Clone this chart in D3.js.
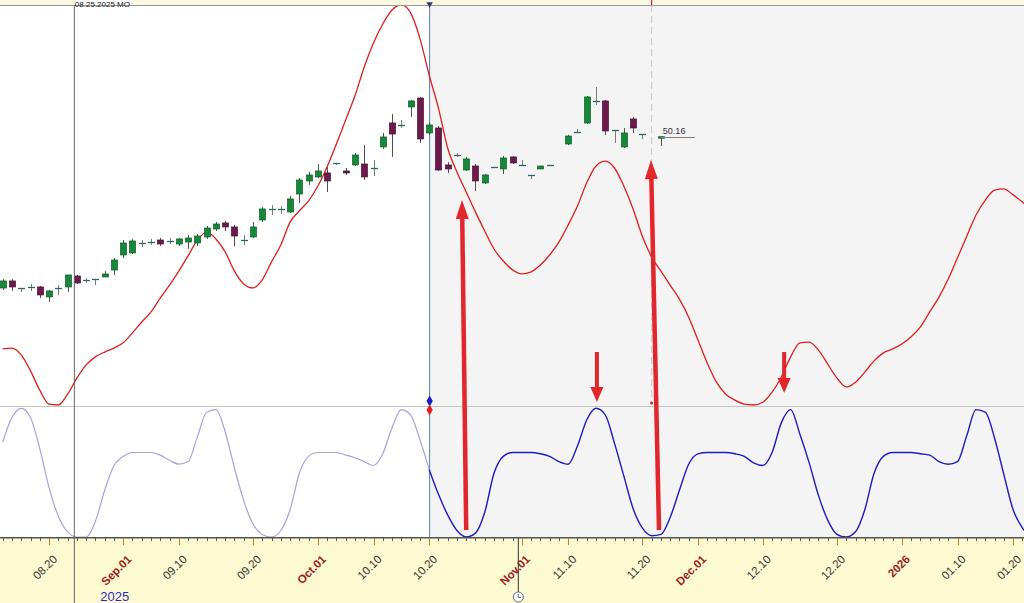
<!DOCTYPE html>
<html>
<head>
<meta charset="utf-8">
<title>cycle chart</title>
<script src="https://cdn.jsdelivr.net/npm/d3@7/dist/d3.min.js"></script>
<style>
  body { margin: 0; background: #fff; }
  svg { display: block; font-family: "Liberation Sans", Arial, sans-serif; }
</style>
</head>
<body>
<svg id="svg" width="1024" height="603"></svg>
<script>
// ---- calendar ----
var firstDay = "2025-08-13";
var lastDay = "2026-01-23";
var holidays = ["2025-09-01", "2025-10-07", "2025-11-27", "2025-12-25", "2026-01-01"];
var cursorDay = "2025-08-25";
var splitDay = "2025-10-20";
var nowDay = "2025-11-21";
var lastPrice = 50.16;

// ---- candles, one per trading day from Aug 13 ----
var open = [31.25,32.13,31.25,31.38,31.38,30.13,31.25,31.38,32.75,32.25, 32.38,32.63,33.50,35.38,35.63,36.88,37.00,37.25,37.13,36.75,
  37.00,36.88,37.63,38.63,39.38,38.88,37.25,37.63,39.75,41.13, 41.13,40.75,43.00,44.63,45.13,45.63,46.88,45.88,46.63,46.75,
  46.25,48.88,51.88,51.63,53.88,55.00,50.63,51.25,46.63,47.88, 46.00,46.50,44.38,46.38,46.13,47.63,46.63,45.38,46.13,46.63,
  null,49.25,50.81,51.88,54.63,54.63,51.00,48.88,52.38,50.50, null,50.10];
var high = [32.38,32.38,31.25,31.75,31.50,31.00,31.63,32.88,32.88,32.50, 32.38,33.38,35.00,37.25,37.38,37.25,37.38,37.50,37.50,37.50,
  37.88,38.00,39.00,39.50,39.63,39.13,37.88,39.50,41.38,41.63, 41.50,42.75,45.00,45.75,46.75,46.38,46.88,46.25,48.13,49.13,
  47.25,50.63,53.00,52.25,54.75,55.13,52.00,51.50,47.00,48.13, 47.63,46.75,45.50,46.38,47.75,47.75,47.25,45.38,46.50,46.63,
  null,50.38,51.13,55.25,56.38,54.75,51.00,51.25,52.63,50.50, null,50.20];
var low = [31.00,30.88,30.75,30.88,30.00,29.50,30.38,30.75,31.75,31.88, 31.63,32.63,32.88,35.00,35.50,36.38,36.63,36.50,36.75,36.50,
  36.13,36.50,37.38,38.38,38.38,36.50,36.63,37.50,39.50,40.38, 40.50,40.63,41.88,44.13,45.00,43.25,46.63,45.38,46.50,44.75,
  45.25,48.63,47.63,51.25,52.63,49.38,50.38,45.88,45.63,47.63, 45.88,43.38,44.25,46.38,45.50,46.75,46.50,44.88,46.13,46.63,
  null,49.13,50.63,51.75,54.13,50.38,49.38,48.75,50.63,49.88, null,49.00];
var close = [32.13,31.38,31.25,31.38,30.38,30.88,31.25,32.88,31.88,32.25, 32.38,33.00,34.75,36.88,37.13,36.88,37.00,36.75,37.13,37.38,
  37.50,37.75,38.75,39.25,38.88,37.75,37.25,38.88,41.13,41.13, 41.13,42.38,44.75,45.38,45.88,44.63,46.88,45.63,47.88,45.13,
  46.25,50.13,50.50,51.63,54.63,49.88,51.63,46.00,46.13,47.88, 47.38,44.63,45.38,46.38,47.50,46.88,46.63,45.38,46.50,46.63,
  null,50.25,50.81,55.13,54.63,50.88,51.00,50.63,51.25,50.50, null,50.16];

// ---- cycle in the price panel (0..100), one per trading day ----
var cycle = [14.0,14.2,12.5,8.5,3.7,0.2,0,2.7,6.7,10.0, 12.0,13.2,14.2,15.5,18.0,20.7,23.2,26.7,29.9,33.4,
  37.2,41.1,43.1,41.4,38.2,33.4,30.2,29.2,31.2,35.7, 39.9,45.6,48.4,50.9,54.6,59.4,65.1,71.1,77.1,84.3,
  90.3,95.0,98.5,99.8,97.8,91.5,82.3,74.1,64.1,58.1, 53.1,48.1,43.4,38.9,35.9,33.7,32.7,33.2,34.9,37.4,
  40.6,44.9,49.6,55.4,59.6,60.8,59.1,54.6,48.9,42.1, 36.9,33.4,29.9,26.4,21.9,16.2,10.5,5.7,2.7,1.2,
  0.2,0,0.7,3.2,7.0,12.0,15.5,15.7,13.7,10.2, 6.7,4.5,5.7,8.2,11.0,13.0,14.0,15.2,17.0,19.5,
  23.2,26.9,31.4,36.7,42.1,47.4,51.1,53.6,53.9,52.4, 50.6,48.6];

// ---- oscillator in the lower panel (0..100) ----
var osc = [73,92,99,92,68,38,16,4,0,0, 12,36,55,62,65,65,65,63,59,56,
  58,77,96,98,81,53,28,10,2,0, 5,21,49,62,65,65,65,63,61,58,
  55,64,84,98,94,75,52,33,17,5, 0,3,19,49,62,65,65,65,64,62,
  58,56,70,90,99,94,72,47,22,7, 1,2,15,36,56,64,65,65,65,64,
  62,57,55,65,88,98,79,57,32,13, 2,0,4,21,49,62,65,65,65,64,
  63,58,56,58,78,98,96,76,48,21, 7,0];

// ---- axis labels ----
var tickDates = ["2025-08-20","2025-09-01","2025-09-10","2025-09-20","2025-10-01","2025-10-10","2025-10-20","2025-11-01",
  "2025-11-10","2025-11-20","2025-12-01","2025-12-10","2025-12-20","2026-01-01","2026-01-10","2026-01-20"];
var tickLabels = ["08.20","Sep.01","09.10","09.20","Oct.01","10.10","10.20","Nov.01",
  "11.10","11.20","Dec.01","12.10","12.20","2026","01.10","01.20"];

// ---- annotations: [day index, price] ----
var arrowFrom = [[50.0, 1.0], [70.8, 1.0], [64.1, 23.25], [84.3, 23.25]];
var arrowTo = [[49.55, 42.25], [69.93, 47.25], [64.1, 17.0], [84.3, 18.13]];

var W = 1024, H = 603, plotTop = 5, midY = 406, plotBottom = 537;

var parse = d3.timeParse("%Y-%m-%d");
var fmt = d3.timeFormat("%Y-%m-%d");
var days = d3.timeDay.range(parse(firstDay), d3.timeDay.offset(parse(lastDay), 1))
  .filter(function (d) { var w = d.getDay(); return w != 0 && w != 6 && holidays.indexOf(fmt(d)) < 0; });
function dayIndex(s) { return d3.bisectLeft(days, parse(s)); }

var x = d3.scaleLinear().domain([0, 1]).range([2.7, 11.97]);
var y = d3.scaleLinear().domain([16.5, 66.5]).range([406, 6]);
var yCycle = d3.scaleLinear().domain([0, 100]).range([405, 4]);
var yOsc = d3.scaleLinear().domain([0, 100]).range([537, 407]);

var svg = d3.select("#svg");
var split = dayIndex(splitDay);

// backgrounds
svg.append("rect").attr("x", 0).attr("y", 0).attr("width", W).attr("height", H).attr("fill", "#fff");
svg.append("rect").attr("x", x(split)).attr("y", plotTop).attr("width", W - x(split)).attr("height", plotBottom - plotTop).attr("fill", "#f4f4f4");
svg.append("rect").attr("x", 0).attr("y", 0).attr("width", W).attr("height", plotTop).attr("fill", "#fbf8e1");
svg.append("line").attr("x1", 0).attr("x2", W).attr("y1", plotTop + 0.5).attr("y2", plotTop + 0.5).attr("stroke", "#999");
svg.append("rect").attr("x", 0).attr("y", plotBottom).attr("width", W).attr("height", H - plotBottom).attr("fill", "#fdfad2");

svg.append("defs").append("clipPath").attr("id", "clip")
  .append("rect").attr("x", 0).attr("y", plotTop + 1).attr("width", W).attr("height", plotBottom - plotTop - 1);
var plot = svg.append("g").attr("clip-path", "url(#clip)");

// panel divider
plot.append("line").attr("x1", 0).attr("x2", W).attr("y1", midY + 0.5).attr("y2", midY + 0.5)
  .attr("stroke", "#c4c4c4").attr("stroke-width", 1);

// vertical markers
var xs = x(split), xn = x(dayIndex(nowDay)), xc = x(dayIndex(cursorDay)) - 3;
plot.append("line").attr("x1", xs + 0.5).attr("x2", xs + 0.5).attr("y1", plotTop).attr("y2", plotBottom)
  .attr("stroke", "#4f80b8").attr("stroke-width", 1);
plot.append("line").attr("x1", xn).attr("x2", xn).attr("y1", plotTop).attr("y2", midY - 3)
  .attr("stroke", "#cfcfcf").attr("stroke-width", 1.3).attr("stroke-dasharray", "7,4");

// curves
var line = function (sc) {
  return d3.line().x(function (d) { return x(d.i); }).y(function (d) { return sc(d.v); }).curve(d3.curveMonotoneX);
};
var cyc = cycle.map(function (v, i) { return { i: i, v: v }; });
var os = osc.map(function (v, i) { return { i: i, v: v }; });
plot.append("path").attr("d", line(yCycle)(cyc)).attr("fill", "none").attr("stroke", "#e01e1e").attr("stroke-width", 1.3);
plot.append("path").attr("d", line(yOsc)(os.filter(function (d) { return d.i <= split; })))
  .attr("fill", "none").attr("stroke", "#a3a3e0").attr("stroke-width", 1.2);
plot.append("path").attr("d", line(yOsc)(os.filter(function (d) { return d.i >= split; })))
  .attr("fill", "none").attr("stroke", "#1c1cc4").attr("stroke-width", 1.4);

// candles
var bars = [];
for (var i = 0; i < open.length; i++) {
  if (open[i] == null) continue;
  bars.push({ i: i, o: open[i], h: high[i], l: low[i], c: close[i] });
}
var cg = plot.append("g").selectAll("g").data(bars).enter().append("g");
cg.append("line")
  .attr("x1", function (d) { return Math.round(x(d.i)) + 0.5; })
  .attr("x2", function (d) { return Math.round(x(d.i)) + 0.5; })
  .attr("y1", function (d) { return y(d.h); })
  .attr("y2", function (d) { return y(d.l); })
  .attr("stroke", function (d) { return d.o == d.c ? "#7a7a7a" : "#505050"; })
  .attr("stroke-width", 1);
cg.filter(function (d) { return d.o != d.c; }).append("rect")
  .attr("x", function (d) { return Math.round(x(d.i)) - 2.5; })
  .attr("width", 6)
  .attr("y", function (d) { return y(Math.max(d.o, d.c)); })
  .attr("height", function (d) { return Math.max(1.5, Math.abs(y(d.o) - y(d.c))); })
  .attr("fill", function (d) { return d.c > d.o ? "#15883a" : "#6c1a4c"; })
  .attr("stroke", function (d) { return d.c > d.o ? "#0c5e26" : "#48102f"; })
  .attr("stroke-width", 0.7);
cg.filter(function (d) { return d.o == d.c; }).append("line")
  .attr("x1", function (d) { return Math.round(x(d.i)) - 3; })
  .attr("x2", function (d) { return Math.round(x(d.i)) + 4; })
  .attr("y1", function (d) { return Math.round(y(d.o)) + 0.5; })
  .attr("y2", function (d) { return Math.round(y(d.o)) + 0.5; })
  .attr("stroke", "#2f6464").attr("stroke-width", 1.3);

// last price
var lastI = bars[bars.length - 1].i;
plot.append("line").attr("x1", x(lastI)).attr("x2", x(lastI) + 34)
  .attr("y1", Math.round(y(lastPrice)) + 0.5).attr("y2", Math.round(y(lastPrice)) + 0.5)
  .attr("stroke", "#7d7d7d").attr("stroke-width", 1);
plot.append("text").attr("x", x(lastI) + 2).attr("y", y(lastPrice) - 3)
  .attr("font-size", 9).attr("fill", "#333").text(lastPrice.toFixed(2));

// diamonds at the split bar
plot.append("path").attr("d", d3.symbol(d3.symbolDiamond, 34)())
  .attr("transform", "translate(" + (xs + 0.5) + "," + 401 + ")").attr("fill", "#1a1ad0");
plot.append("path").attr("d", d3.symbol(d3.symbolDiamond, 34)())
  .attr("transform", "translate(" + (xs + 0.5) + "," + 410 + ")").attr("fill", "#e01e1e");
plot.append("circle").attr("cx", xn).attr("cy", midY - 3).attr("r", 1.5).attr("fill", "#e01e1e");

// red arrows
var ag = plot.append("g").attr("fill", "#e2262b").attr("stroke", "#e2262b");
arrowFrom.forEach(function (f, k) {
  var t = arrowTo[k];
  var x1 = x(f[0]), y1 = y(f[1]), x2 = x(t[0]), y2 = y(t[1]);
  var dx = x2 - x1, dy = y2 - y1, len = Math.sqrt(dx * dx + dy * dy);
  var ux = dx / len, uy = dy / len;
  var hl = len > 100 ? 19 : 15, hw = 6.5;
  var bx = x2 - ux * hl, by = y2 - uy * hl;
  ag.append("line").attr("x1", x1).attr("y1", y1).attr("x2", bx + ux).attr("y2", by + uy)
    .attr("stroke-width", len > 100 ? 4.5 : 4);
  ag.append("path").attr("stroke", "none")
    .attr("d", "M" + x2 + "," + y2 + "L" + (bx - uy * hw) + "," + (by + ux * hw) + "L" + (bx + uy * hw) + "," + (by - ux * hw) + "Z");
});

// cursor line (crosses the axis too)
svg.append("line").attr("x1", xc + 0.5).attr("x2", xc + 0.5).attr("y1", plotTop).attr("y2", H)
  .attr("stroke", "#666").attr("stroke-width", 1);
svg.append("rect").attr("x", xc + 1).attr("y", 0).attr("width", 58).attr("height", plotTop).attr("fill", "#fff");
svg.append("text").attr("x", xc + 1).attr("y", 6.5).attr("font-size", 8).attr("fill", "#111").text("08.25.2025 MO");

// top markers
svg.append("path").attr("d", d3.symbol(d3.symbolTriangle, 18)())
  .attr("transform", "translate(" + (xs + 0.5) + ",4) rotate(180)").attr("fill", "#33336a");
svg.append("line").attr("x1", xn).attr("x2", xn).attr("y1", 0).attr("y2", 5).attr("stroke", "#e01e1e").attr("stroke-width", 1.2);

// ---- time axis ----
var axis = svg.append("g");
axis.append("line").attr("x1", 0).attr("x2", W).attr("y1", plotBottom + 0.75).attr("y2", plotBottom + 0.75)
  .attr("stroke", "#555").attr("stroke-width", 1.5);
axis.selectAll(".minor").data(days.map(function (d, i) { return i; })).enter().append("line")
  .attr("class", "minor")
  .attr("x1", function (i) { return Math.round(x(i)) + 0.5; })
  .attr("x2", function (i) { return Math.round(x(i)) + 0.5; })
  .attr("y1", plotBottom + 1).attr("y2", plotBottom + 4)
  .attr("stroke", "#555");
var ticks = tickDates.map(function (s, k) { return { x: x(dayIndex(s)), label: tickLabels[k] }; });
axis.selectAll(".major").data(ticks).enter().append("line")
  .attr("class", "major")
  .attr("x1", function (d) { return Math.round(d.x) + 0.5; })
  .attr("x2", function (d) { return Math.round(d.x) + 0.5; })
  .attr("y1", plotBottom + 1).attr("y2", plotBottom + 8)
  .attr("stroke", "#c0803c").attr("stroke-width", 1);
axis.selectAll(".lbl").data(ticks).enter().append("text")
  .attr("class", "lbl")
  .attr("text-anchor", "end")
  .attr("font-size", 11.5)
  .attr("font-weight", function (d) { return /[A-Za-z]|^\d{4}$/.test(d.label) ? "bold" : "normal"; })
  .attr("fill", function (d) { return /[A-Za-z]|^\d{4}$/.test(d.label) ? "#9c1d1d" : "#333"; })
  .attr("transform", function (d) { return "translate(" + (d.x + 9) + "," + 560 + ") rotate(-45)"; })
  .text(function (d) { return d.label; });
var sepX = x(dayIndex("2025-09-01"));
axis.append("text").attr("x", sepX - 23).attr("y", 601).attr("font-size", 13).attr("fill", "#2a2ad0").text("2025");

// today marker under the axis
var nx = x(dayIndex("2025-11-01")) - 4;
axis.append("line").attr("x1", nx + 0.5).attr("x2", nx + 0.5).attr("y1", plotBottom + 1).attr("y2", 592)
  .attr("stroke", "#333").attr("stroke-width", 1);
axis.append("circle").attr("cx", nx + 0.5).attr("cy", 597).attr("r", 5).attr("fill", "#fff").attr("stroke", "#5a6a90");
axis.append("path").attr("d", "M" + (nx + 0.5) + ",594 V597.5 H" + (nx + 3)).attr("fill", "none").attr("stroke", "#5a6a90");
</script>
</body>
</html>
